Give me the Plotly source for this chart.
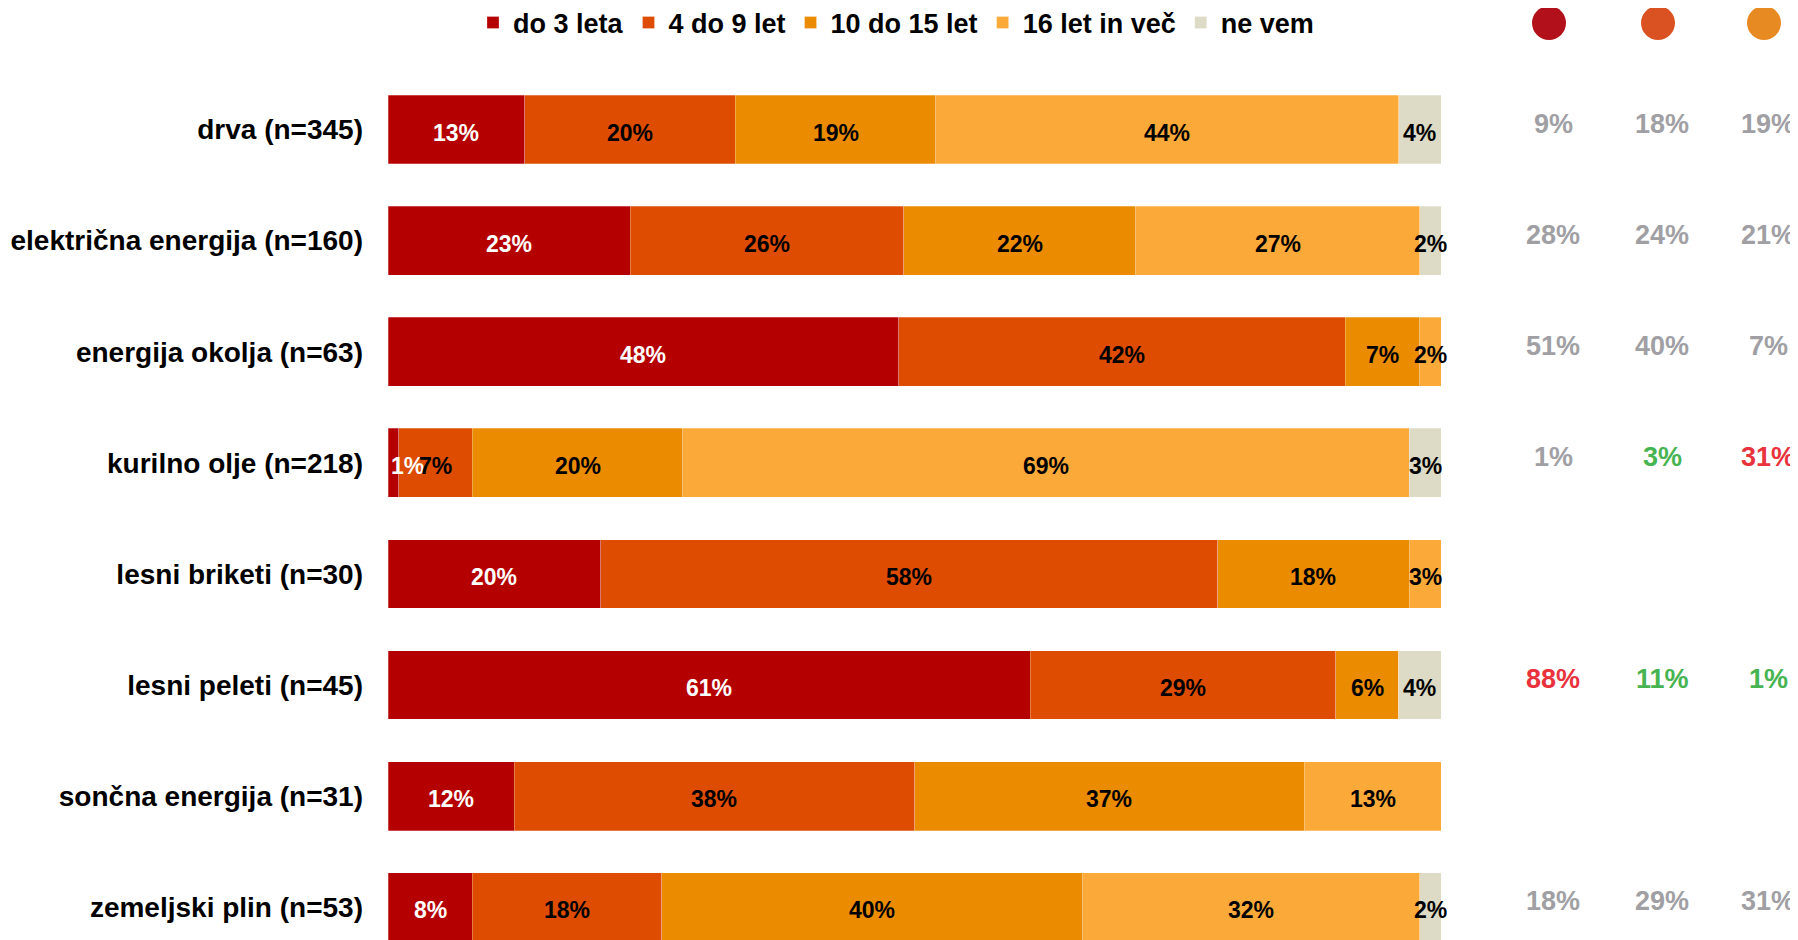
import plotly.graph_objects as go

categories = ["drva (n=345)", "električna energija (n=160)", "energija okolja (n=63)",
              "kurilno olje (n=218)", "lesni briketi (n=30)", "lesni peleti (n=45)",
              "sončna energija (n=31)", "zemeljski plin (n=53)"]
series_names = ["do 3 leta", "4 do 9 let", "10 do 15 let", "16 let in več", "ne vem"]
do3 = [13, 23, 48, 1, 20, 61, 12, 8]
od4do9 = [20, 26, 42, 7, 58, 29, 38, 18]
od10do15 = [19, 22, 7, 20, 18, 6, 37, 40]
od16 = [44, 27, 2, 69, 3, 0, 13, 32]
nevem = [4, 2, 0, 3, 0, 4, 0, 2]

# right-hand columns
col1_vals = [9, 28, 51, 1, None, 88, None, 18]
col2_vals = [18, 24, 40, 3, None, 11, None, 29]
col3_vals = [19, 21, 7, 31, None, 1, None, 31]
col1_tone = ["n", "n", "n", "n", None, "neg", None, "n"]
col2_tone = ["n", "n", "n", "pos", None, "pos", None, "n"]
col3_tone = ["n", "n", "n", "neg", None, "pos", None, "n"]

series_vals = [do3, od4do9, od10do15, od16, nevem]
colors = ["#B50000", "#DD4C00", "#EB8B00", "#FBAA3A", "#DDDAC5"]
text_colors = ["white", "black", "black", "black", "black"]
circle_colors = ["#B2101A", "#DB5222", "#E88A22"]
tone_colors = {"n": "#A0A0A4", "pos": "#46B450", "neg": "#E8323C"}

OFF = 8  # page body margin
W, H = 1798 - OFF, 940 - OFF
ML, MT = 388 - OFF, 74 - OFF
plot_w = W - ML
bar_end_frac = (1441 - OFF - ML) / plot_w
col_px = [1549 - OFF, 1658 - OFF, 1764 - OFF]

FONT = "Liberation Sans, Arial, sans-serif"

fig = go.Figure()
for name, vals, c in zip(series_names, series_vals, colors):
    fig.add_trace(go.Bar(
        name=name, y=categories, x=vals, orientation="h",
        marker=dict(color=c, line=dict(width=0.6, color="rgba(255,255,255,0.45)")),
        hovertemplate="%{y}: %{x}%<extra>" + name + "</extra>",
    ))

annotations = []

# value labels drawn above all bars (centre of each normalised segment)
totals = [sum(s[i] for s in series_vals) for i in range(len(categories))]
cum = [0] * len(categories)
for name, vals, tc in zip(series_names, series_vals, text_colors):
    for i, v in enumerate(vals):
        if v > 0:
            start = cum[i] / totals[i] * 100
            mid = (cum[i] + v / 2) / totals[i] * 100
            left = mid < 1.5
            annotations.append(dict(
                x=start if left else mid, xref="x", y=categories[i], yref="y",
                text=f"{v}%", showarrow=False, yshift=-3, xshift=1 if left else 0,
                xanchor="left" if left else "center", yanchor="middle",
                font=dict(family=FONT, size=23, color=tc, weight="bold"),
            ))
        cum[i] += v

for vals, tones, px in zip([col1_vals, col2_vals, col3_vals], [col1_tone, col2_tone, col3_tone], col_px):
    for cat, v, t in zip(categories, vals, tones):
        if v is None:
            continue
        annotations.append(dict(
            x=(px - ML) / plot_w, xref="paper", y=cat, yref="y",
            text=f"{v}%", showarrow=False, xshift=4, yshift=6,
            font=dict(family=FONT, size=27, color=tone_colors[t], weight="bold"),
            xanchor="center", yanchor="middle",
        ))

shapes = []
circle_y = 1 + (MT - (23 - OFF)) / (H - MT)
for px, cc in zip(col_px, circle_colors):
    shapes.append(dict(
        type="circle", xref="paper", yref="paper",
        xsizemode="pixel", ysizemode="pixel",
        xanchor=(px - ML) / plot_w, yanchor=circle_y,
        x0=-17, x1=17, y0=-17, y1=17,
        fillcolor=cc, line=dict(width=0),
    ))

unit = 111.1
bottom_val = (H - MT) / unit - 0.5

fig.update_layout(
    width=W, height=H,
    margin=dict(l=ML, r=0, t=MT, b=0, pad=0, autoexpand=False),
    paper_bgcolor="white", plot_bgcolor="white",
    barmode="stack", barnorm="percent", bargap=0.38,
    font=dict(family=FONT, color="black"),
    xaxis=dict(domain=[0, bar_end_frac], range=[0, 100], visible=False, fixedrange=True),
    yaxis=dict(type="category", categoryorder="array", categoryarray=categories,
               range=[bottom_val, -0.5], showgrid=False, zeroline=False, showline=False,
               ticks="", ticklabelstandoff=24,
               tickfont=dict(family=FONT, size=28, color="black", weight="bold")),
    legend=dict(orientation="h", x=(473 - OFF - ML) / plot_w, xanchor="left",
                y=circle_y, yanchor="middle", traceorder="normal",
                font=dict(family=FONT, size=27, color="black", weight="bold"),
                itemclick=False, itemdoubleclick=False),
    annotations=annotations, shapes=shapes,
    showlegend=True,
)

fig.write_html("out.html")
